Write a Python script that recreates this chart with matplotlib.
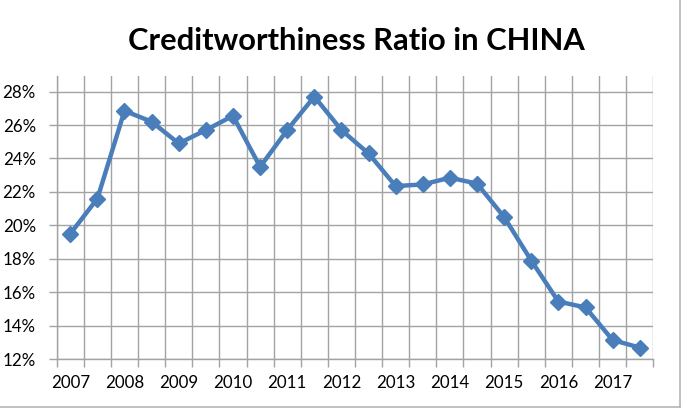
import matplotlib
matplotlib.use("Agg")
import matplotlib.pyplot as plt
from matplotlib.lines import Line2D
from matplotlib.ticker import FuncFormatter, FixedLocator

plt.rcParams['font.family'] = ['Lato', 'DejaVu Sans']

years = ["2007", "2008", "2009", "2010", "2011", "2012",
         "2013", "2014", "2015", "2016", "2017"]
ratio = [19.5, 21.6, 26.85, 26.2, 24.9, 25.7, 26.55, 23.5, 25.7, 27.7, 25.7,
         24.3, 22.35, 22.45, 22.85, 22.5, 20.5, 17.9, 15.45, 15.1, 13.15, 12.7]
title = "Creditworthiness Ratio in CHINA"

line_color = "#4A7EBB"
grid_color = "#A3A3A3"

fig = plt.figure(figsize=(6.81, 4.09), dpi=100)
ax = fig.add_axes([56.7 / 681, (409 - 359.3) / 409, (653.3 - 56.7) / 681, (359.3 - 76) / 409])

x = list(range(len(ratio)))
vals = [v / 100 for v in ratio]
ax.plot(x, vals, color=line_color, lw=3.2, marker='D', ms=8.5,
        markeredgecolor=line_color, markerfacecolor=line_color, zorder=3)

ax.set_xlim(-0.5, len(ratio) - 0.5)
ax.set_ylim(0.12, 0.2893)

# x axis: category boundaries as minor ticks with gridlines; year labels every 2 categories
ax.xaxis.set_minor_locator(FixedLocator([i - 0.5 for i in range(len(ratio) + 1)]))
ax.xaxis.set_major_locator(FixedLocator([2 * i for i in range(len(years))]))
ax.set_xticklabels(years)
ax.tick_params(axis='x', which='major', length=0, pad=11, labelsize=12.2, labelcolor='black')
ax.tick_params(axis='x', which='minor', length=6, width=1, color=grid_color, direction='out')
ax.grid(True, axis='x', which='minor', color=grid_color, lw=1)

yt = [0.12 + 0.02 * i for i in range(9)]
ax.yaxis.set_major_locator(FixedLocator(yt))
ax.yaxis.set_major_formatter(FuncFormatter(lambda v, p: f"{v * 100:.0f}%"))
ax.tick_params(axis='y', which='major', length=6, width=1, color=grid_color, direction='out',
               pad=9, labelsize=12.2, labelcolor='black')
ax.grid(True, axis='y', which='major', color=grid_color, lw=1)
ax.set_axisbelow(True)

for s in ['top', 'right']:
    ax.spines[s].set_visible(False)
for s in ['left', 'bottom']:
    ax.spines[s].set_color(grid_color)
    ax.spines[s].set_linewidth(1)

fig.text(356.5 / 681, 1 - 50 / 409, title, ha='center', va='baseline',
         fontsize=22.2, fontweight='bold', color='black')

border = "#B5B5B5"
fig.add_artist(Line2D([0, 679.5 / 681], [1 - 406.7 / 409] * 2, transform=fig.transFigure,
                      color=border, lw=1.2))
fig.add_artist(Line2D([679.5 / 681] * 2, [1 - 406.7 / 409, 1], transform=fig.transFigure,
                      color=border, lw=1.2))

fig.savefig("out.png", dpi=100)
